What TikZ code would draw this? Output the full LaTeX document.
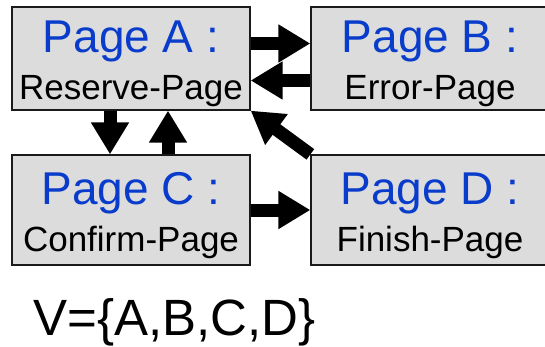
\documentclass[tikz,border=0pt]{standalone}
\usepackage{fontspec}
\setmainfont{Liberation Sans}
\usepackage{xcolor}
\usepackage{tikz}
\usetikzlibrary{arrows.meta}
\definecolor{boxfill}{HTML}{DCDCDC}
\definecolor{boxline}{HTML}{1A1A1A}
\definecolor{title}{HTML}{0A3CCC}
\newcommand{\pagetitle}[1]{\rule{0pt}{46pt}{\color{title}\fontsize{46}{47}\selectfont #1}}
\newcommand{\pagename}[1]{#1\rule[-10pt]{0pt}{10pt}}
\tikzset{
  pagebox/.style={draw=boxline, fill=boxfill, line width=1.3pt, inner sep=0pt,
    minimum width=238pt, minimum height=103pt, align=center,
    font=\fontsize{35}{47}\selectfont},
  tallbox/.style={pagebox, minimum height=110pt},
  link/.style={draw=black, line width=13pt,
    -{Triangle[length=32pt,width=36pt]}},
  setlab/.style={anchor=base west, inner sep=0pt, font=\fontsize{51}{60}\selectfont},
}
\begin{document}
\begin{tikzpicture}[x=1pt,y=1pt]
  \useasboundingbox (0,0) rectangle (545,-347);
  \node[pagebox] (A) at (131,-58.5) {\pagetitle{Page A :}\\\pagename{Reserve-Page}};
  \node[pagebox] (B) at (430,-58.5) {\pagetitle{Page B :}\\\pagename{Error-Page}};
  \node[tallbox] (C) at (131,-210) {\pagetitle{Page C :}\\\pagename{Confirm-Page}};
  \node[tallbox] (D) at (430,-210) {\pagetitle{Page D :}\\\pagename{Finish-Page}};
  \draw[link] ([yshift=15pt]A.east) -- ([yshift=15pt]B.west);
  \draw[link] ([yshift=-22pt]B.west) -- ([yshift=-22pt]A.east);
  \draw[link] ([xshift=-21pt]A.south) -- ([xshift=-21pt]C.north);
  \draw[link] ([xshift=37pt]C.north) -- ([xshift=37pt]A.south);
  \draw[link] (C.east) -- (D.west);
  \draw[link] (D.north west) -- (A.south east);
  \node[setlab] (V) at (33,-335) {V=\{A,B,C,D\}};
\end{tikzpicture}
\end{document}
